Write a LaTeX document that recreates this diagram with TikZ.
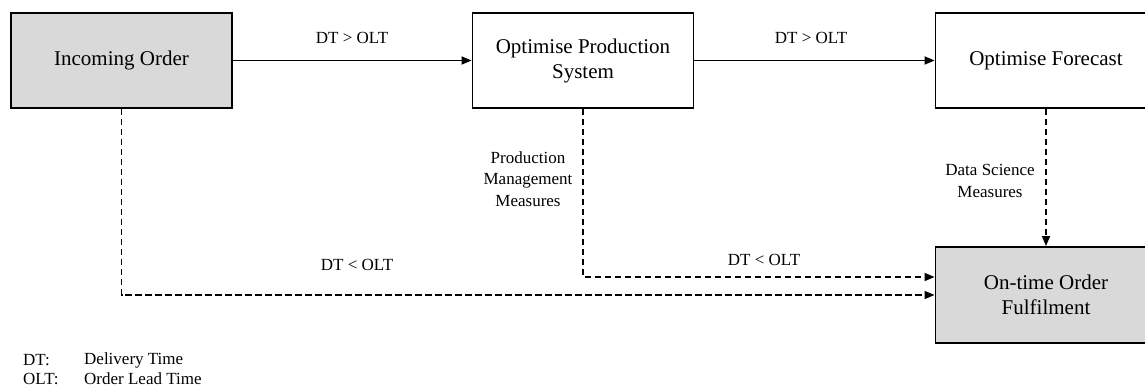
\documentclass[tikz,border=0pt]{standalone}
\usepackage{fontspec}
\setmainfont{Liberation Serif}
\usetikzlibrary{arrows.meta}
\definecolor{boxgray}{HTML}{D9D9D9}
\begin{document}
\begin{tikzpicture}[x=1pt,y=-1pt,
  blk/.style={draw=black,line width=1.9pt,minimum width=221pt,minimum height=95pt,inner sep=0pt,align=center,
    font=\fontsize{21}{25}\selectfont},
  grayblk/.style={blk,fill=boxgray},
  lbl/.style={inner sep=0pt,align=center,font=\fontsize{17}{21.5}\selectfont},
  leg/.style={inner sep=0pt,anchor=west,font=\fontsize{17}{20}\selectfont},
  solidarrow/.style={line width=1.7pt,-{Triangle[length=10pt,width=8pt]}},
  dasharrow/.style={line width=1.6pt,dash pattern=on 6.5pt off 3.5pt,-{Triangle[length=10pt,width=8pt]}}]
\useasboundingbox (0,0) rectangle (1145,390);
\node[grayblk] (inc) at (121.5,60.5) {Incoming Order};
\node[blk] (ops) at (583,60.5) {Optimise Production\\System};
\node[blk] (opf) at (1046,60.5) {Optimise Forecast};
\node[grayblk,minimum height=96pt] (otf) at (1046,295) {On-time Order\\Fulfilment};
\coordinate (c1) at (583,277);
\coordinate (c2) at (121.5,295);
\draw[solidarrow] (inc) -- (ops);
\draw[solidarrow] (ops) -- (opf);
\draw[dasharrow] (ops.south) -- (c1) -- (c1 -| otf.west);
\draw[dasharrow] (inc.south) -- (c2) -- (otf.west);
\draw[dasharrow] (opf.south) -- (otf.north);
\node[lbl] (l1) at (352,38) {DT > OLT};
\node[lbl] (l2) at (811,38) {DT > OLT};
\node[lbl] (l3) at (357,265) {DT < OLT};
\node[lbl] (l4) at (764,260) {DT < OLT};
\node[lbl] (l5) at (528,179) {Production\\Management\\Measures};
\node[lbl] (l6) at (990,181) {Data Science\\Measures};
\node[leg] (g1) at (23,360) {DT:};
\node[leg] (g2) at (84,360) {Delivery Time};
\node[leg] (g3) at (23,379) {OLT:};
\node[leg] (g4) at (84,379) {Order Lead Time};
\end{tikzpicture}
\end{document}
